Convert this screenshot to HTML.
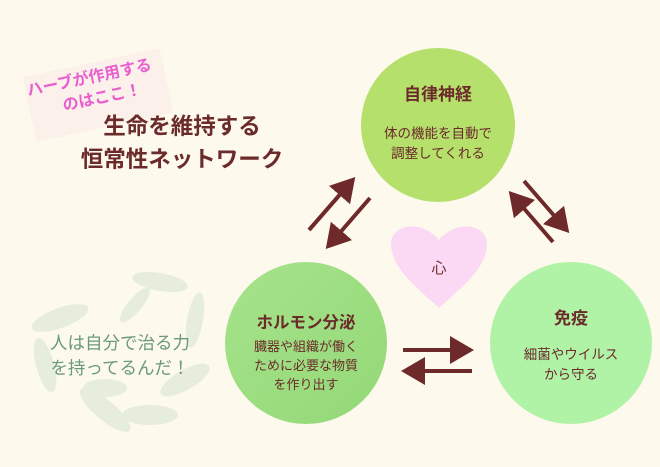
<!DOCTYPE html>
<html><head><meta charset="utf-8"><style>
body{margin:0;width:660px;height:467px;background:#fdf9ec;overflow:hidden;position:relative;font-family:"Liberation Sans","Noto Sans CJK JP",sans-serif;}
.t{position:absolute;white-space:nowrap;text-align:center;}
</style></head><body>
<svg width="660" height="467" style="position:absolute;left:0;top:0">
<defs>
<marker id="a" markerWidth="7" markerHeight="7" refX="4" refY="3.5" orient="auto" markerUnits="strokeWidth"><path d="M0,0 L6,3.5 L0,7 z" fill="#6e2a2a"/></marker>
<linearGradient id="g1" x1="0" y1="0" x2="1" y2="1"><stop offset="0" stop-color="#a7e38c"/><stop offset="1" stop-color="#93d877"/></linearGradient>
</defs>
<rect x="28" y="62" width="140" height="66" fill="#fbf1ea" transform="rotate(-12 98 95)"/>
<g fill="#d8e8d0" opacity="0.6">
<ellipse cx="60" cy="318" rx="30" ry="10" transform="rotate(-20 60 318)"/>
<ellipse cx="45" cy="365" rx="28" ry="9" transform="rotate(75 45 365)"/>
<ellipse cx="105" cy="410" rx="32" ry="10" transform="rotate(40 105 410)"/>
<ellipse cx="150" cy="415" rx="28" ry="10"/>
<ellipse cx="185" cy="380" rx="28" ry="10" transform="rotate(-30 185 380)"/>
<ellipse cx="195" cy="320" rx="28" ry="8" transform="rotate(-80 195 320)"/>
<ellipse cx="160" cy="282" rx="28" ry="9" transform="rotate(10 160 282)"/>
<ellipse cx="135" cy="305" rx="22" ry="7" transform="rotate(-50 135 305)"/>
<ellipse cx="105" cy="388" rx="22" ry="9"/>
</g>
<circle cx="438" cy="125" r="77" fill="#b5e06c"/>
<circle cx="306" cy="343" r="81" fill="url(#g1)"/>
<circle cx="571" cy="343" r="81" fill="#b0f2a6"/>
<path d="M439,308 C420,290 392,270 391,245 C390,225 420,218 439,240 C458,218 488,225 487,245 C486,270 458,290 439,308 Z" fill="#fbd9f5"/>
<g stroke="#6e2a2a" stroke-width="4" fill="none" marker-end="url(#a)">
<line x1="309" y1="230" x2="350" y2="183"/>
<line x1="370" y1="198" x2="331" y2="243"/>
<line x1="524" y1="181" x2="564" y2="227"/>
<line x1="553" y1="242" x2="514" y2="197"/>
<line x1="403" y1="350" x2="466" y2="350"/>
<line x1="472" y1="371" x2="409" y2="371"/>
</g>
</svg>
<div class="t" style="left:28px;top:60px;color:#e95fcf;font-size:16px;font-weight:bold;line-height:22px;text-align:left;transform:rotate(-12deg);transform-origin:100px 25px;">ハーブが作用する<br>　　のはここ！</div>
<div class="t" style="left:72px;top:110px;width:220px;color:#6b2b2b;font-size:22.5px;font-weight:bold;line-height:33px;">生命を維持する<br>恒常性ネットワーク</div>
<div class="t" style="left:40px;top:331px;width:160px;color:#6a9a78;font-size:17.5px;line-height:25px;">人は自分で治る力<br>を持ってるんだ！</div>
<div class="t" style="left:368px;top:80px;width:140px;color:#6b2b2b;font-size:17px;font-weight:bold;">自律神経</div>
<div class="t" style="left:358px;top:124px;width:160px;color:#6b2b2b;font-size:13.5px;line-height:20px;">体の機能を自動で<br>調整してくれる</div>
<div class="t" style="left:236px;top:309px;width:140px;color:#6b2b2b;font-size:16.5px;font-weight:bold;">ホルモン分泌</div>
<div class="t" style="left:236px;top:337px;width:140px;color:#6b2b2b;font-size:13px;line-height:19px;">臓器や組織が働く<br>ために必要な物質<br>を作り出す</div>
<div class="t" style="left:501px;top:304px;width:140px;color:#6b2b2b;font-size:17px;font-weight:bold;">免疫</div>
<div class="t" style="left:501px;top:345px;width:140px;color:#6b2b2b;font-size:13.5px;line-height:20px;">細菌やウイルス<br>から守る</div>
<div class="t" style="left:419px;top:257px;width:40px;color:#6b2b2b;font-size:15px;">心</div>
</body></html>
